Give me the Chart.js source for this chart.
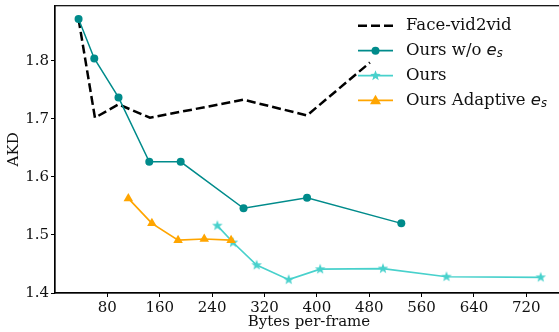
<!DOCTYPE html>
<html>
<head>
<meta charset="utf-8">
<script src="https://cdn.jsdelivr.net/npm/chart.js@4"></script>
<style>
  html, body { margin: 0; padding: 0; background: #fff; overflow: hidden; }
  /* shifted up 1px: Chart.js keeps a 5px top gap, the figure has 4px */
  #wrap { width: 570px; height: 333px; position: relative; top: -1px; }
</style>
</head>
<body>
<div id="wrap"><canvas id="akdChart"></canvas></div>
<script>
// Data
const legendLabels = ["Face-vid2vid", "Ours w/o $e_s$", "Ours", "Ours Adaptive $e_s$"];

const faceX = [36, 61, 97, 145, 288, 385, 481];
const faceY = [1.872, 1.702, 1.725, 1.702, 1.733, 1.706, 1.797];

const woX = [36, 60, 97, 144, 192, 288, 385, 529];
const woY = [1.872, 1.804, 1.737, 1.626, 1.626, 1.546, 1.564, 1.520];

const oursX = [248, 272, 308, 357, 405, 501, 598, 742];
const oursY = [1.516, 1.487, 1.448, 1.423, 1.441, 1.442, 1.428, 1.427];

const adaptX = [112, 148, 188, 228, 269];
const adaptY = [1.563, 1.520, 1.491, 1.493, 1.491];

const xTicks = [80, 160, 240, 320, 400, 480, 560, 640, 720];
const yTicks = [1.4, 1.5, 1.6, 1.7, 1.8];

const TEAL = "#008b8b";
const TURQ = "#48d1cc";
const ORANGE = "#ffa500";
const INK = "#111";
const SERIF = "'DejaVu Serif', serif";

const pts = (xs, ys) => xs.map((x, i) => ({ x: x, y: ys[i] }));

// filled five point star, like matplotlib's '*'
function starPath(ctx, cx, cy, r) {
  const inner = r * 0.42;
  ctx.beginPath();
  for (let i = 0; i < 10; i++) {
    const rr = i % 2 === 0 ? r : inner;
    const a = -Math.PI / 2 + i * Math.PI / 5;
    const px = cx + rr * Math.cos(a), py = cy + rr * Math.sin(a);
    if (i === 0) ctx.moveTo(px, py); else ctx.lineTo(px, py);
  }
  ctx.closePath();
}

const starImg = document.createElement("canvas");
starImg.width = 14; starImg.height = 14;
(function () {
  const c = starImg.getContext("2d");
  c.fillStyle = TURQ;
  starPath(c, 7, 7, 5.5);
  c.fill();
})();

// legend drawn inside the plot, top right (canvas is 1px up, so rows +1)
const legendPlugin = {
  id: "akdLegend",
  afterDraw(chart) {
    const ctx = chart.ctx;
    const rows = [26.7, 51.7, 76.7, 101.3];
    const x0 = 358, x1 = 393, xm = 375.5, tx = 406;
    ctx.save();
    rows.forEach((y, i) => {
      ctx.save();
      if (i === 0) {
        ctx.strokeStyle = "#000"; ctx.lineWidth = 2.5; ctx.setLineDash([9, 4]);
      } else {
        ctx.strokeStyle = [null, TEAL, TURQ, ORANGE][i]; ctx.lineWidth = 1.8;
      }
      ctx.beginPath(); ctx.moveTo(x0, y); ctx.lineTo(x1, y); ctx.stroke();
      ctx.setLineDash([]);
      if (i === 1) {
        ctx.fillStyle = TEAL; ctx.beginPath(); ctx.arc(xm, y, 4, 0, Math.PI * 2); ctx.fill();
      } else if (i === 2) {
        ctx.fillStyle = TURQ; starPath(ctx, xm, y, 5.5); ctx.fill();
      } else if (i === 3) {
        ctx.fillStyle = ORANGE; ctx.beginPath();
        ctx.moveTo(xm, y - 5.5); ctx.lineTo(xm + 5.5, y + 4); ctx.lineTo(xm - 5.5, y + 4);
        ctx.closePath(); ctx.fill();
      }
      ctx.restore();

      const label = legendLabels[i];
      ctx.fillStyle = INK;
      ctx.textBaseline = "middle";
      ctx.textAlign = "left";
      ctx.font = "16.5px " + SERIF;
      if (label.includes("$e_s$")) {
        const base = label.replace("$e_s$", "");
        ctx.fillText(base, tx, y);
        let cx = tx + ctx.measureText(base).width;
        ctx.font = "italic 16.5px 'DejaVu Sans'";
        ctx.fillText("e", cx, y);
        cx += ctx.measureText("e").width;
        ctx.font = "italic 11.5px 'DejaVu Sans'";
        ctx.fillText("s", cx, y + 3.5);
      } else {
        ctx.fillText(label, tx, y);
      }
    });
    ctx.restore();
  }
};

// top spine (the right one falls outside the window)
const framePlugin = {
  id: "frame",
  afterDatasetsDraw(chart) {
    const { ctx, chartArea: a } = chart;
    ctx.save();
    ctx.strokeStyle = "#000";
    ctx.lineWidth = 1.2;
    ctx.strokeRect(a.left, a.top, a.right - a.left, a.bottom - a.top);
    ctx.restore();
  }
};

const ctx = document.getElementById("akdChart").getContext("2d");
const chart = new Chart(ctx, {
  type: "scatter",
  data: {
    datasets: [
      {
        label: legendLabels[0], data: pts(faceX, faceY), showLine: true, order: 4,
        borderColor: "#000", borderWidth: 2.5, borderDash: [9, 4], pointRadius: 0,
        pointHoverRadius: 0
      },
      {
        label: legendLabels[1], data: pts(woX, woY), showLine: true, order: 3,
        borderColor: TEAL, borderWidth: 1.5, pointStyle: "circle", pointRadius: 4,
        pointBackgroundColor: TEAL, pointBorderWidth: 0
      },
      {
        label: legendLabels[2], data: pts(oursX, oursY), showLine: true, order: 2,
        borderColor: TURQ, borderWidth: 1.7, pointStyle: starImg, pointRadius: 5,
        pointBackgroundColor: TURQ
      },
      {
        label: legendLabels[3], data: pts(adaptX, adaptY), showLine: true, order: 1,
        borderColor: ORANGE, borderWidth: 1.7, pointStyle: "triangle", pointRadius: 5.5,
        pointBackgroundColor: ORANGE, pointBorderWidth: 0
      }
    ]
  },
  options: {
    responsive: true,
    maintainAspectRatio: false,
    animation: false,
    devicePixelRatio: 1,
    layout: { padding: { left: 0, right: 7, top: 4, bottom: 0 } },
    plugins: { legend: { display: false }, tooltip: { enabled: false } },
    scales: {
      x: {
        type: "linear", min: 0, max: 776,
        grid: { display: true, drawOnChartArea: false, drawTicks: true, tickLength: 4, color: "#000", lineWidth: 1 },
        border: { display: true, color: "#000", width: 1.2 },
        ticks: { font: { family: SERIF, size: 15 }, color: INK, padding: 2, maxRotation: 0 },
        afterBuildTicks: s => { s.ticks = xTicks.map(v => ({ value: v })); },
        afterFit: s => { s.height = 39; s.paddingLeft = 0; s.paddingRight = 0; },
        title: { display: true, text: "Bytes per-frame", color: INK,
          font: { family: SERIF, size: 15 }, padding: { top: 0, bottom: 1 } }
      },
      y: {
        type: "linear", min: 1.4, max: 1.895,
        grid: { display: true, drawOnChartArea: false, drawTicks: true, tickLength: 4, color: "#000", lineWidth: 1 },
        border: { display: true, color: "#000", width: 1.2 },
        ticks: { font: { family: SERIF, size: 15, lineHeight: 0.2 }, color: INK, padding: 2,
          callback: v => v.toFixed(1) },
        afterBuildTicks: s => { s.ticks = yTicks.map(v => ({ value: v })); },
        afterFit: s => { s.width = 55; s.paddingTop = 0; s.paddingBottom = 0; },
        title: { display: true, text: "AKD", color: INK,
          font: { family: SERIF, size: 15 }, padding: { top: 5, bottom: 0 } }
      }
    }
  },
  plugins: [legendPlugin, framePlugin]
});
</script>
</body>
</html>
